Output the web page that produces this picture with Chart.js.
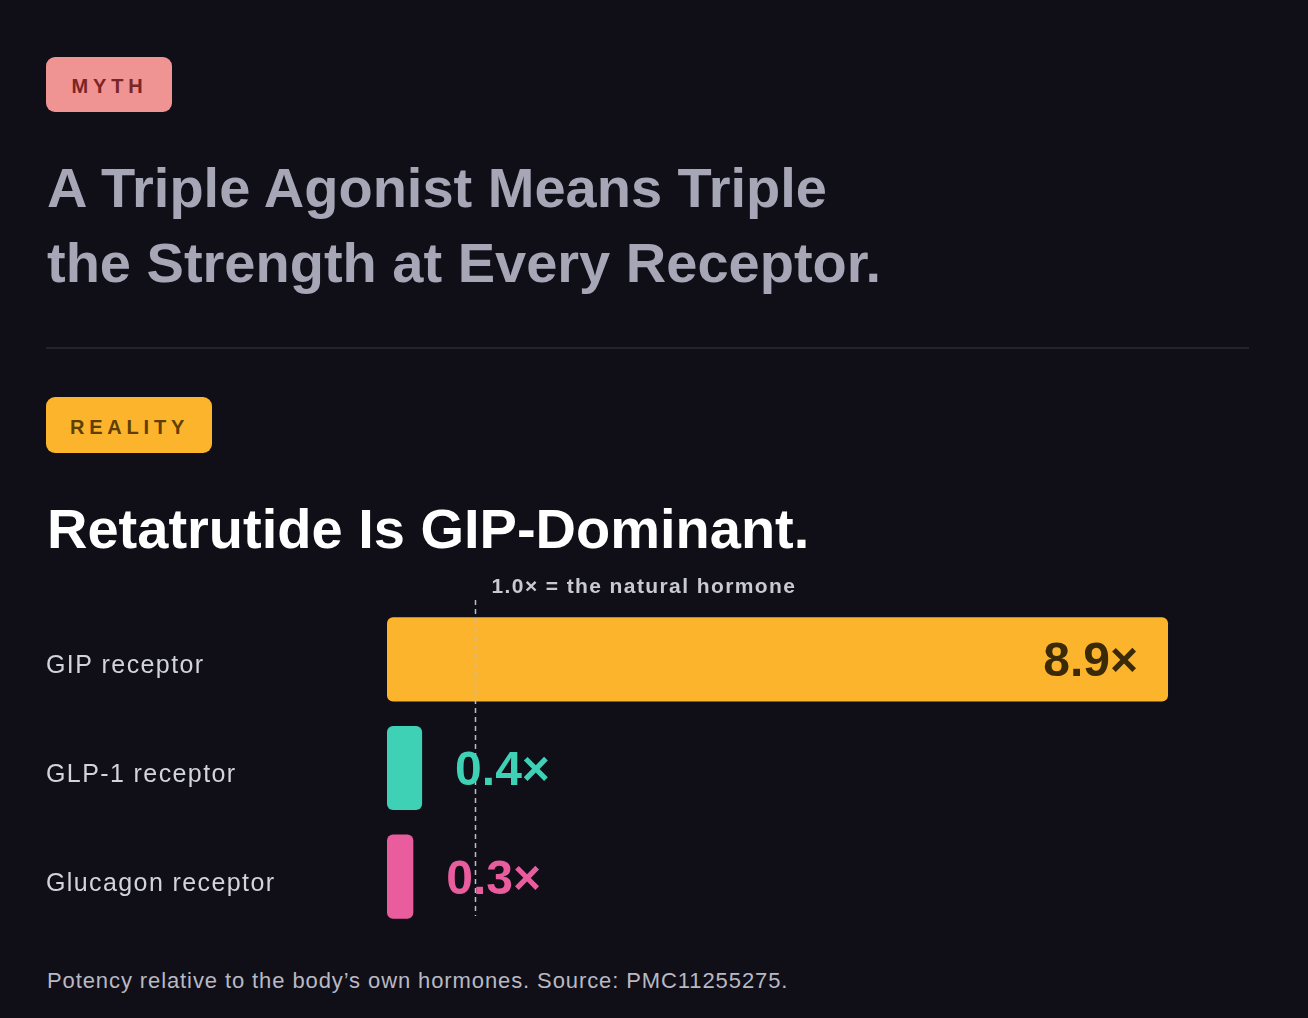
<!DOCTYPE html>
<html>
<head>
<meta charset="utf-8">
<script src="https://cdn.jsdelivr.net/npm/chart.js@4"></script>
<style>
  html, body { margin:0; padding:0; background:#100f18; width:1308px; height:1018px; overflow:hidden; }
  body { font-family: "Liberation Sans", Arial, sans-serif; position:relative; }
  .badge { position:absolute; left:46px; border-radius:9px; display:flex; align-items:center; justify-content:center;
           font-weight:700; font-size:20px; letter-spacing:4.8px; box-sizing:border-box; padding-left:1px; padding-top:4px; }
  #myth { top:57px; width:126px; height:55px; background:#f09393; color:#7a2626; }
  #reality { top:397px; width:166px; height:56px; background:#fbb42b; color:#5e3f00; }
  .h { position:absolute; left:47px; font-weight:700; font-size:56px; white-space:nowrap; }
  #mythTitle { top:150px; line-height:75px; color:#a6a6b6; }
  #realTitle { top:501px; line-height:56px; color:#ffffff; }
  #divider { position:absolute; left:46px; top:347px; width:1203px; height:2px; background:#23222e; }
  #foot { position:absolute; left:47px; top:970px; font-size:22px; line-height:22px; letter-spacing:0.9px; color:#b9b9c3; white-space:nowrap; }
  #wrap { position:absolute; left:46px; top:560px; width:1204px; height:386px; }
</style>
</head>
<body>
<div class="badge" id="myth">MYTH</div>
<div class="h" id="mythTitle">A Triple Agonist Means Triple<br>the Strength at Every Receptor.</div>
<div id="divider"></div>
<div class="badge" id="reality">REALITY</div>
<div class="h" id="realTitle">Retatrutide Is GIP-Dominant.</div>
<div id="wrap"><canvas id="c"></canvas></div>
<div id="foot">Potency relative to the body’s own hormones. Source: PMC11255275.</div>
<script>
const categories = ["GIP receptor", "GLP-1 receptor", "Glucagon receptor"];
const potency = [8.9, 0.4, 0.3];
const valueLabels = ["8.9×", "0.4×", "0.3×"];
const barColors = ["#fbb42b", "#3fd1b5", "#e95d9e"];
const labelColors = ["#3a2a08", "#3fd1b5", "#e95d9e"];
const referenceValue = 1.0;
const referenceText = "1.0× = the natural hormone";

const spacing = {
  id: 'spacing',
  beforeDraw(chart) { chart.ctx.letterSpacing = '1.4px'; }
};

const overlay = {
  id: 'overlay',
  afterDatasetsDraw(chart) {
    const ctx = chart.ctx, xs = chart.scales.x, area = chart.chartArea;
    const meta = chart.getDatasetMeta(0);
    const rx = Math.round(xs.getPixelForValue(referenceValue)) + 0.5;
    ctx.save();
    ctx.strokeStyle = '#bdbdc6';
    ctx.lineWidth = 1.5;
    ctx.setLineDash([5, 4]);
    ctx.beginPath();
    ctx.moveTo(rx, area.top - 5);
    ctx.lineTo(rx, area.bottom - 15);
    ctx.stroke();
    ctx.setLineDash([]);
    ctx.letterSpacing = '1.4px';
    ctx.font = 'bold 21px "Liberation Sans", Arial, sans-serif';
    ctx.fillStyle = '#c9c9d3';
    ctx.textAlign = 'left';
    ctx.textBaseline = 'alphabetic';
    ctx.fillText(referenceText, rx + 16, area.top - 12);
    ctx.letterSpacing = '0px';
    ctx.font = 'bold 48px "Liberation Sans", Arial, sans-serif';
    meta.data.forEach((bar, i) => {
      const v = potency[i];
      ctx.fillStyle = labelColors[i];
      const y = bar.y + 17;
      if (v > 3) {
        ctx.textAlign = 'right';
        ctx.fillText(valueLabels[i], bar.x - 30, y);
      } else {
        ctx.textAlign = 'left';
        ctx.fillText(valueLabels[i], bar.x + 33, y);
      }
    });
    ctx.restore();
  }
};

new Chart(document.getElementById('c'), {
  type: 'bar',
  data: {
    labels: categories,
    datasets: [{
      data: potency,
      backgroundColor: barColors,
      borderRadius: 6,
      borderSkipped: false,
      barPercentage: 1,
      categoryPercentage: 0.775
    }]
  },
  options: {
    indexAxis: 'y',
    responsive: true,
    maintainAspectRatio: false,
    animation: false,
    layout: { padding: { top: 45, bottom: 10, right: 3, left: 0 } },
    plugins: { legend: { display: false }, tooltip: { enabled: false } },
    scales: {
      x: { display: false, min: 0, max: 9.8 },
      y: {
        grid: { display: false },
        border: { display: false },
        afterFit(scale) { scale.width = 341; },
        ticks: {
          crossAlign: 'far',
          padding: 0,
          labelOffset: 7,
          color: '#d3d3db',
          font: { family: '"Liberation Sans", Arial, sans-serif', size: 25 }
        }
      }
    }
  },
  plugins: [spacing, overlay]
});
</script>
</body>
</html>
